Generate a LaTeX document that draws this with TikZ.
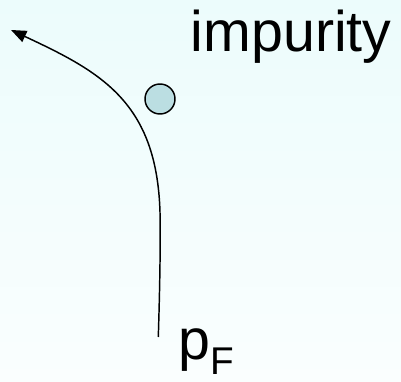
\documentclass[tikz,border=0pt]{standalone}
\usepackage{fontspec}
\setmainfont{Liberation Sans}
\usepackage{xcolor}
\usepackage{tikz}
\usetikzlibrary{positioning, arrows.meta}
\definecolor{BgTop}{HTML}{ECFCFC}
\definecolor{BgBottom}{HTML}{FAFEFE}
\definecolor{ImpurityFill}{HTML}{BBDEE2}

\begin{document}
\begin{tikzpicture}[x=0.75pt, y=0.75pt,
            bigtext/.style={inner sep=0pt, anchor=base west, font=\fontsize{43}{43}\selectfont},
            impdot/.style={circle, draw=black, line width=1.1pt, fill=ImpurityFill, minimum size=30*0.75pt, inner sep=0pt},
            path/.style={draw=black, line width=1.1pt, -{Triangle[length=11.5pt, width=9pt]}}
        ]
            % background
            \shade[top color=BgTop, bottom color=BgBottom] (0,0) rectangle (401,382);
            \useasboundingbox (0,0) rectangle (401,382);

            \node[impdot] (imp) at (160,283) {};
            \node[bigtext] (implabel) at (190.5,330) {impurity};
            \node[bigtext] (pflabel) at (178,22) {p\raisebox{-11.25pt}{\fontsize{29}{29}\selectfont F}};

            \coordinate (pstart) at (158.3,45);
            \coordinate (pbend) at (160,170);
            \coordinate (ptip) at (11,352);

            \draw[path] (pstart) .. controls (160,100) and (160.5,140) .. (pbend)
                .. controls (156.7,280) and (101,310) .. (ptip);
        \end{tikzpicture}
\end{document}
